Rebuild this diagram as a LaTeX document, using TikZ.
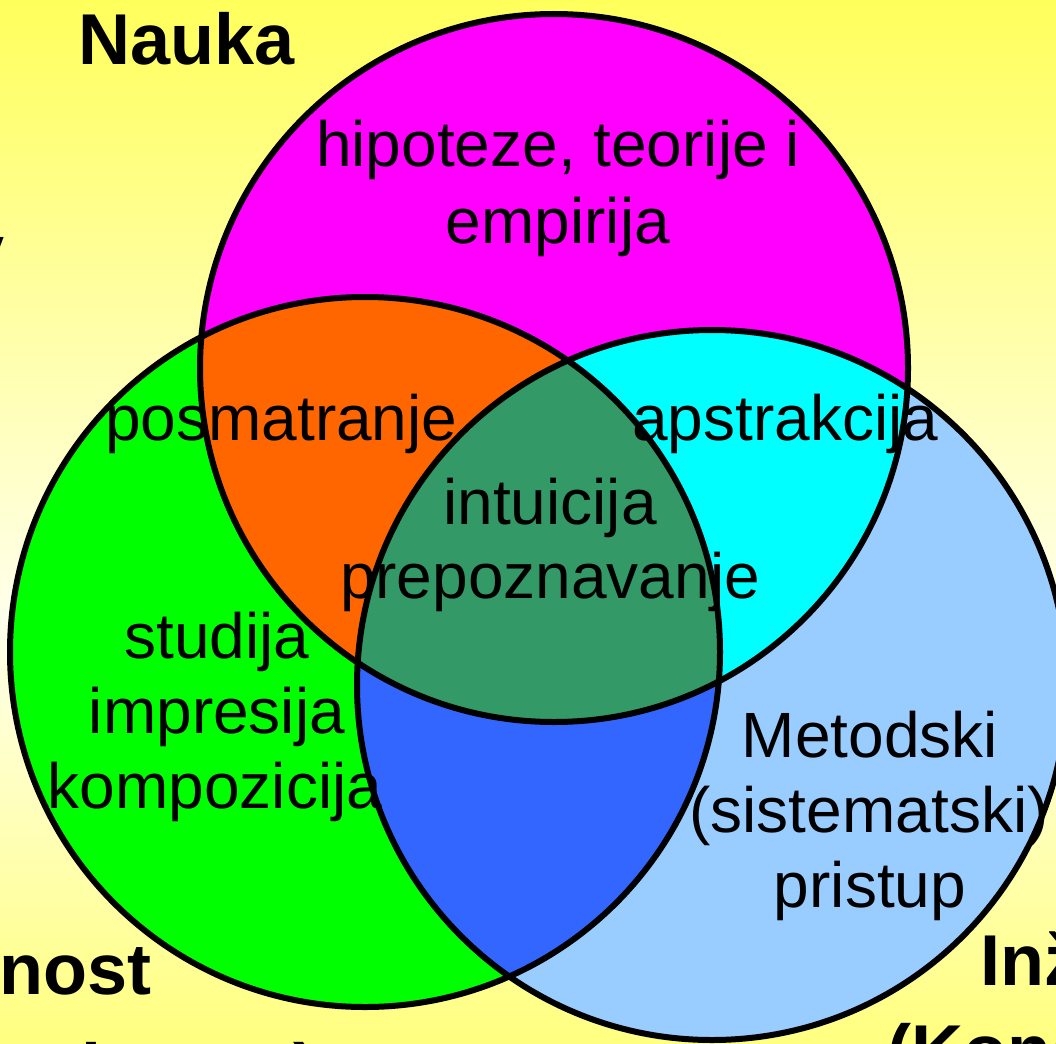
\documentclass[tikz,border=0pt]{standalone}
\usepackage{fontspec}
\setmainfont{Liberation Sans}
\definecolor{bgtop}{HTML}{FFFF5C}
\definecolor{bgmid}{HTML}{FFFFEC}
\definecolor{bgbot}{HTML}{FFFF80}
\definecolor{cmag}{HTML}{FF00FF}
\definecolor{cgreen}{HTML}{00FF00}
\definecolor{clblue}{HTML}{99CCFF}
\definecolor{corange}{HTML}{FF6600}
\definecolor{ccyan}{HTML}{00FFFF}
\definecolor{cblue}{HTML}{3366FF}
\definecolor{csea}{HTML}{339966}
\begin{document}
\begin{tikzpicture}[x=1pt,y=-1pt,
  lbl/.style={inner sep=0pt, anchor=base, font=\fontsize{64}{75}\selectfont},
  ttl/.style={inner sep=0pt, font=\fontsize{72}{86}\selectfont\bfseries},
  ring/.style={draw=black, line width=6pt}]
\useasboundingbox (0,0) rectangle (1056,1043);
\clip (0,0) rectangle (1056,1043);
\shade[top color=bgtop, bottom color=bgmid] (0,0) rectangle (1056,621);
\shade[top color=bgmid, bottom color=bgbot] (0,620) rectangle (1056,1043);
% circle centres
\coordinate (cm) at (554,368);
\coordinate (cg) at (365,652);
\coordinate (cb) at (712,685);
% base fills
\fill[cmag] (cm) circle[radius=354pt];
\fill[cgreen] (cg) circle[radius=355pt];
\fill[clblue] (cb) circle[radius=355pt];
% pairwise intersections
\begin{scope}
  \clip (cm) circle[radius=354pt];
  \fill[corange] (cg) circle[radius=355pt];
\end{scope}
\begin{scope}
  \clip (cm) circle[radius=354pt];
  \fill[ccyan] (cb) circle[radius=355pt];
\end{scope}
\begin{scope}
  \clip (cg) circle[radius=355pt];
  \fill[cblue] (cb) circle[radius=355pt];
\end{scope}
\begin{scope}
  \clip (cm) circle[radius=354pt];
  \clip (cg) circle[radius=355pt];
  \fill[csea] (cb) circle[radius=355pt];
\end{scope}
% outlines
\draw[ring] (cm) circle[radius=354pt];
\draw[ring] (cg) circle[radius=355pt];
\draw[ring] (cb) circle[radius=355pt];
% labels
\node[lbl] (h1) at (558,167) {hipoteze, teorije i};
\node[lbl] (h2) at (558,243) {empirija};
\node[lbl, anchor=base west] (pos) at (105,440) {posmatranje};
\node[lbl, anchor=base west] (aps) at (632,440) {apstrakcija};
\node[lbl] (int) at (550,524) {intuicija};
\node[lbl] (pre) at (550,598) {prepoznavanje};
\node[lbl] (s1) at (217,658) {studija};
\node[lbl] (s2) at (217,733) {impresija};
\node[lbl] (s3) at (215,808) {kompozicija};
\node[lbl] (m1) at (870,757) {Metodski};
\node[lbl] (m2) at (869,832) {(sistematski)};
\node[lbl] (m3) at (870,907) {pristup};
% titles
\node[ttl, anchor=base west] (nauka) at (78,65) {Nauka};
\node[ttl, anchor=base east] (ltop) at (5,275) {y};
\node[ttl, anchor=base east] (um1) at (152,994) {Umetnost};
\node[ttl, anchor=base east] (um2) at (318,1094) {(Kreativnost)};
\node[ttl, anchor=base west] (in1) at (980,985) {Inženjerstvo};
\node[ttl, anchor=base west] (in2) at (887,1075) {(Konstrukcija)};
\end{tikzpicture}
\end{document}
